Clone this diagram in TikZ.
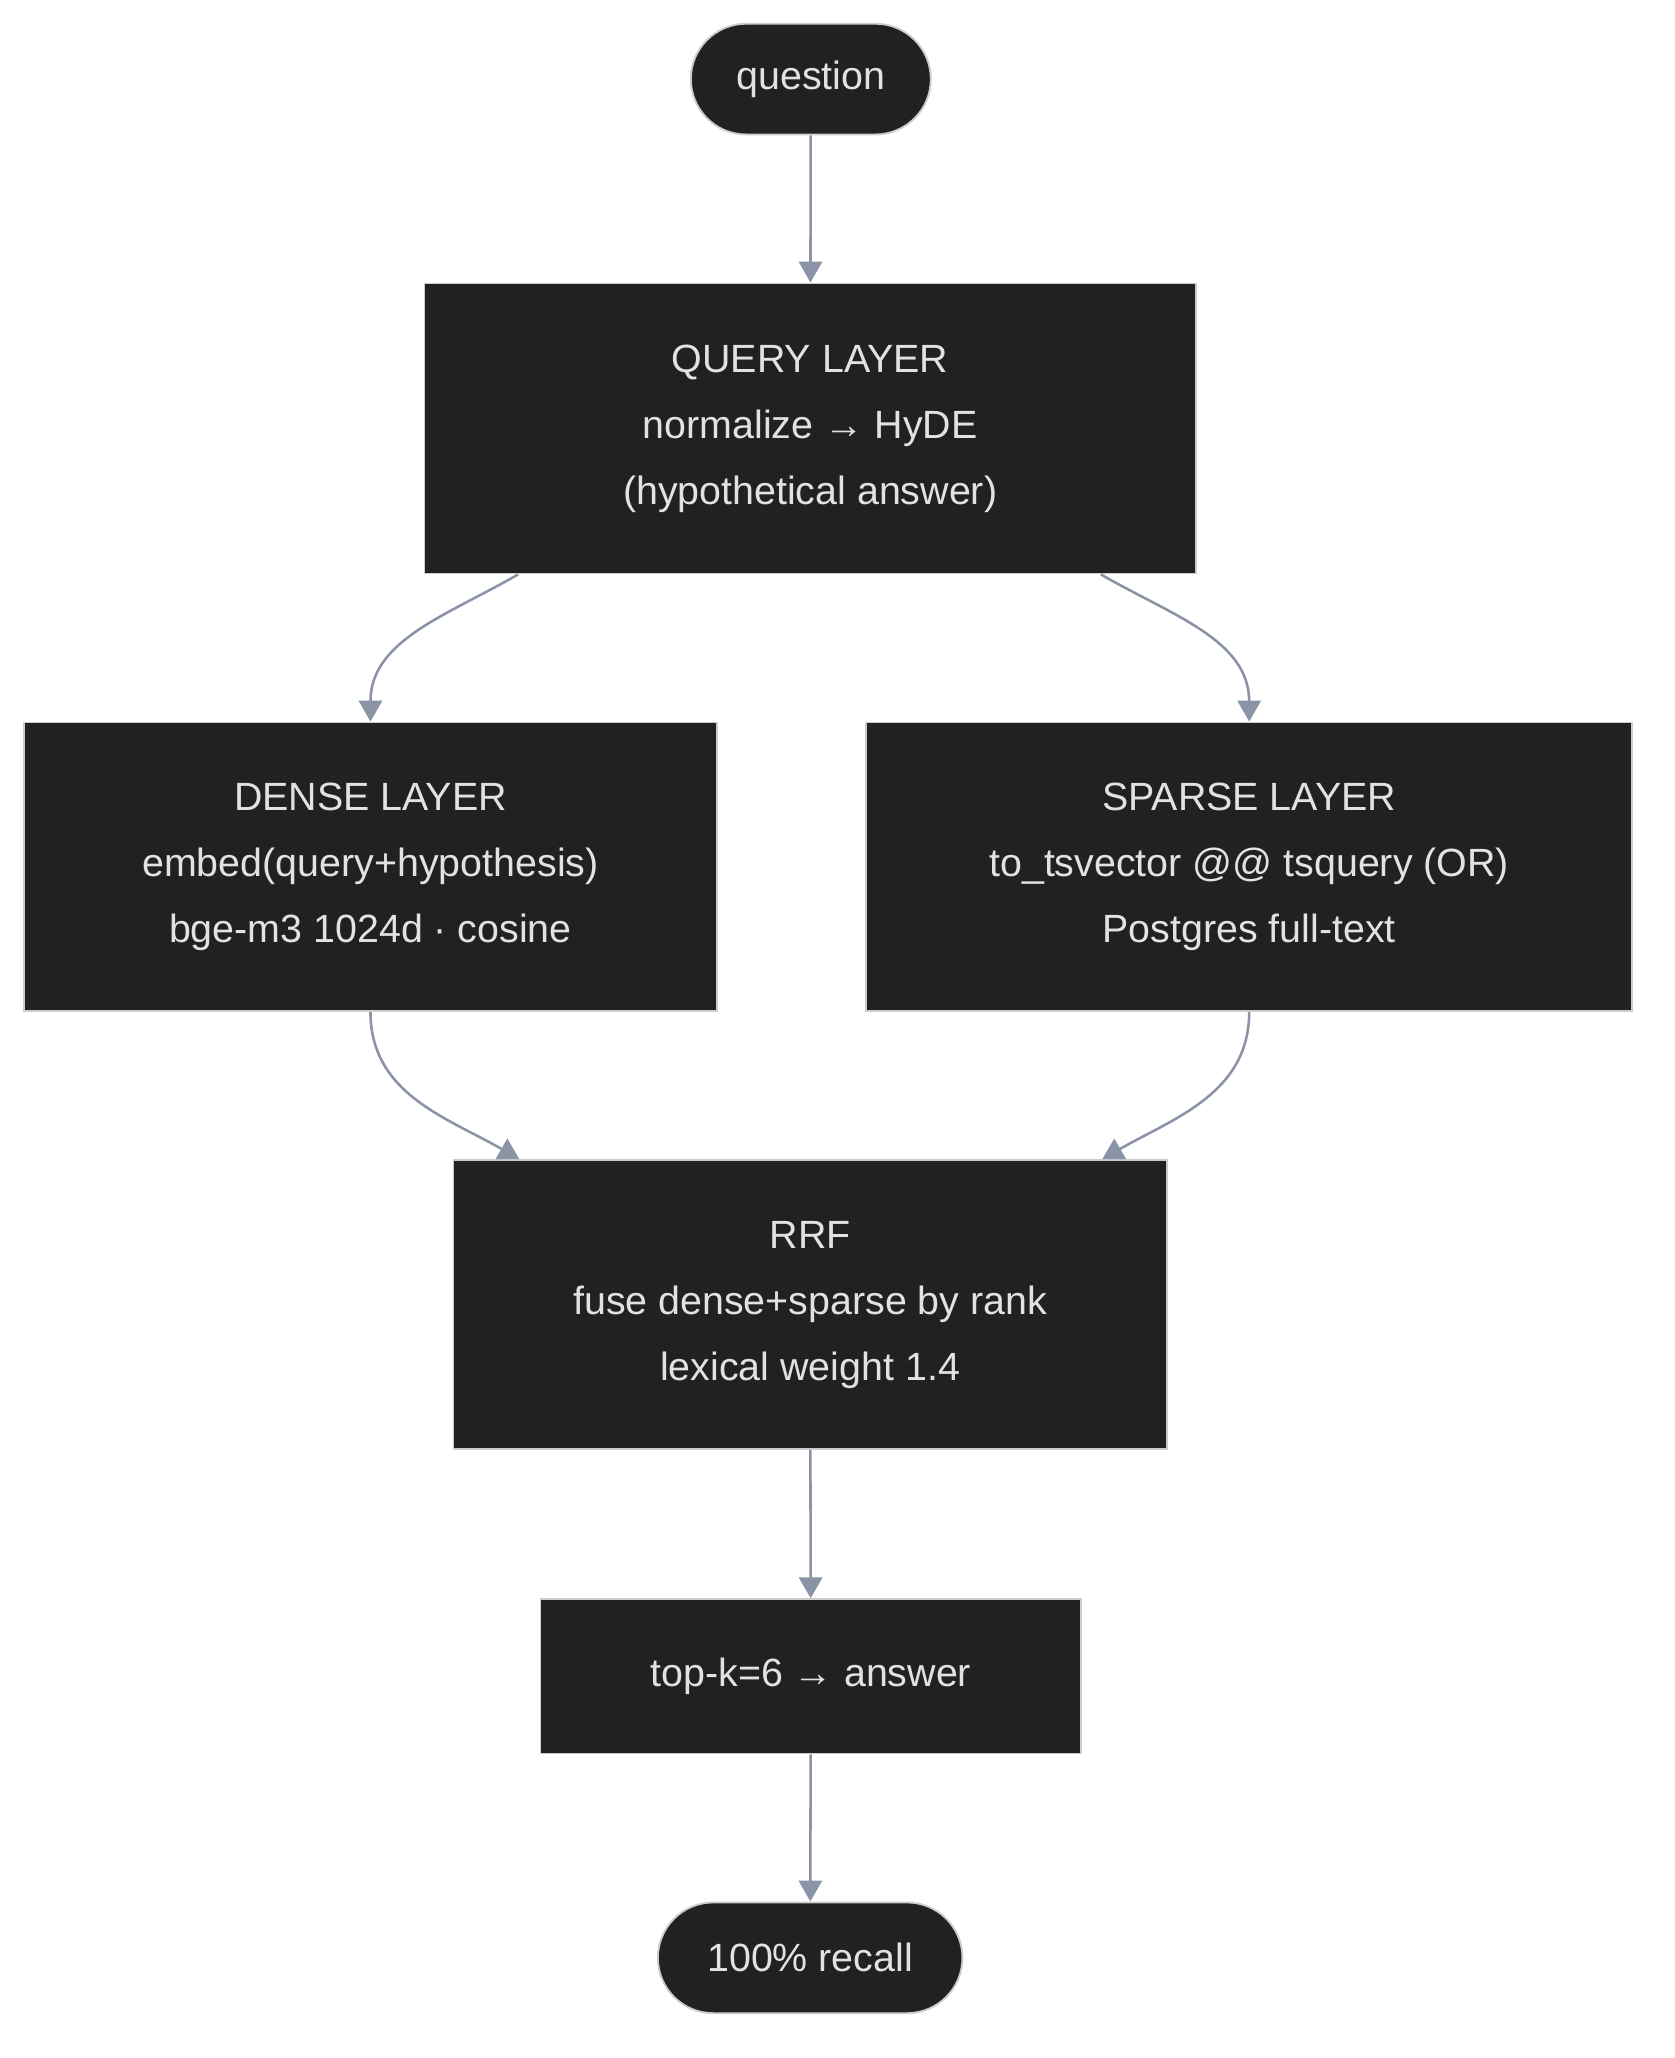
\documentclass[tikz,border=0pt]{standalone}
\usepackage{fontspec}
\setmainfont{Liberation Sans}
\usetikzlibrary{arrows.meta,shapes.misc}
\definecolor{boxfill}{HTML}{202121}
\definecolor{boxline}{HTML}{CCCCCC}
\definecolor{boxtext}{HTML}{E2E2E2}
\definecolor{edgecol}{HTML}{8A94A6}
\begin{document}
\begin{tikzpicture}[x=0.02cm,y=-0.02cm,
    box/.style={rectangle, fill=boxfill, draw=boxline, line width=0.8pt, text=boxtext, align=center, font=\fontsize{17}{28.5}\selectfont, inner sep=0pt},
    term/.style={box, rounded rectangle},
    edge/.style={draw=edgecol, line width=1.1pt, -{Triangle[length=9pt,width=10pt]}}]
  \fill[white] (0,0) rectangle (1270,1561);

  \node[term, minimum width=182*0.02cm, minimum height=84*0.02cm] (question) at (615,60) {question};
  \node[box, minimum width=585*0.02cm, minimum height=220*0.02cm] (query) at (614.5,325) {QUERY LAYER\\normalize → HyDE\\(hypothetical answer)};
  \node[box, minimum width=526*0.02cm, minimum height=219*0.02cm] (dense) at (281,657.5) {DENSE LAYER\\embed(query+hypothesis)\\bge-m3 1024d · cosine};
  \node[box, minimum width=581*0.02cm, minimum height=219*0.02cm] (sparse) at (947.5,657.5) {SPARSE LAYER\\to\_tsvector @@ tsquery (OR)\\Postgres full-text};
  \node[box, minimum width=541*0.02cm, minimum height=219*0.02cm] (rrf) at (614.5,989.5) {RRF\\fuse dense+sparse by rank\\lexical weight 1.4};
  \node[box, minimum width=410*0.02cm, minimum height=117*0.02cm] (topk) at (615,1271.5) {top-k=6 → answer};
  \node[term, minimum width=231*0.02cm, minimum height=84*0.02cm] (recall) at (614.5,1485) {100\% recall};

  \draw[edge] (question) -- (query);
  \draw[edge] (query.south -| 393,0) to[out=-150,in=90] (dense.north);
  \draw[edge] (query.south -| 835,0) to[out=-30,in=90] (sparse.north);
  \draw[edge] (dense.south) to[out=-90,in=150] (rrf.north -| 394,0);
  \draw[edge] (sparse.south) to[out=-90,in=30] (rrf.north -| 836,0);
  \draw[edge] (rrf) -- (topk);
  \draw[edge] (topk) -- (recall);
\end{tikzpicture}
\end{document}
